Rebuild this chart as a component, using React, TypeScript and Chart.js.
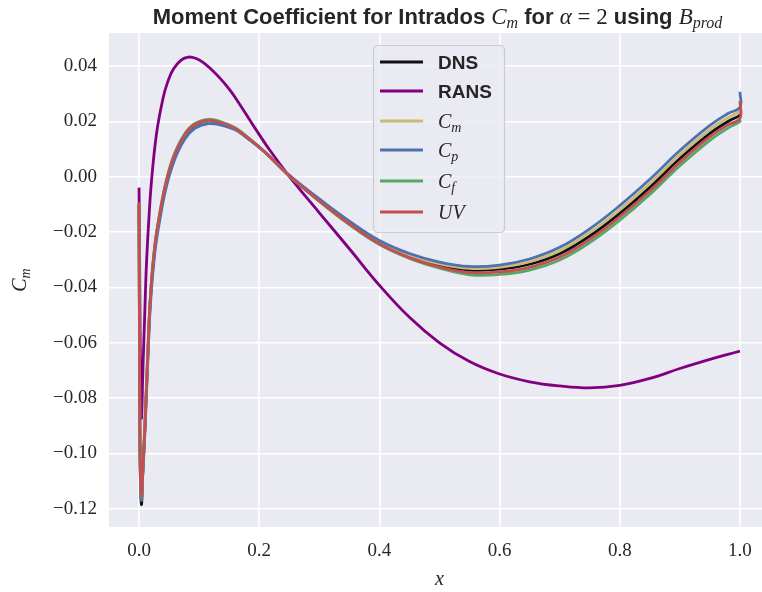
import React, { useEffect, useRef } from "react";
import { Chart, registerables } from "chart.js";

Chart.register(...registerables);

// Chordwise stations on the lower surface (shared by DNS and the model curves)
const xStations = [
  0, 0.0005, 0.001, 0.002, 0.004, 0.006, 0.0094, 0.0139, 0.0189, 0.026, 0.0344,
  0.0455, 0.059, 0.076, 0.093, 0.115, 0.135, 0.16, 0.18, 0.21, 0.25, 0.3, 0.35,
  0.4, 0.45, 0.5, 0.55, 0.6, 0.65, 0.7, 0.75, 0.8, 0.85, 0.9, 0.95, 0.98, 1.0, 1.0,
];

const dnsCm = [
  -0.01, -0.042, -0.076, -0.106, -0.1185, -0.108, -0.0926, -0.0685, -0.0443, -0.0262,
  -0.0142, -0.0021, 0.0075, 0.0148, 0.0186, 0.0202, 0.0195, 0.0174, 0.0142, 0.0088,
  0.0004, -0.0085, -0.0167, -0.0238, -0.0287, -0.032, -0.0337, -0.0334, -0.0316,
  -0.0278, -0.0214, -0.0132, -0.0038, 0.0066, 0.0157, 0.02, 0.0222, 0.0228,
];

const cmModel = [
  -0.0098, -0.0415, -0.0752, -0.105, -0.116, -0.107, -0.092, -0.068, -0.044, -0.0258,
  -0.0138, -0.0018, 0.0078, 0.015, 0.0188, 0.0203, 0.0196, 0.0175, 0.0143, 0.0089,
  0.0005, -0.0083, -0.0164, -0.0235, -0.0283, -0.0315, -0.0331, -0.0327, -0.0307,
  -0.0267, -0.0202, -0.0119, -0.0024, 0.008, 0.0171, 0.0214, 0.0237, 0.0244,
];

const cpModel = [
  -0.01, -0.041, -0.0745, -0.1045, -0.117, -0.1085, -0.094, -0.0705, -0.0462, -0.028,
  -0.0158, -0.0036, 0.0061, 0.0136, 0.0175, 0.0192, 0.0188, 0.017, 0.014, 0.0088,
  0.0006, -0.008, -0.016, -0.023, -0.0277, -0.0308, -0.0324, -0.0319, -0.0297,
  -0.0255, -0.0188, -0.0104, -0.0009, 0.0095, 0.0186, 0.0229, 0.0252, 0.0308,
];

const cfModel = [
  -0.0095, -0.0412, -0.075, -0.1048, -0.1158, -0.1062, -0.091, -0.0668, -0.0428, -0.025,
  -0.0131, -0.0011, 0.0084, 0.0156, 0.0193, 0.0208, 0.02, 0.0178, 0.0145, 0.0089,
  0.0003, -0.0089, -0.0173, -0.0245, -0.0295, -0.033, -0.0354, -0.0353, -0.0337,
  -0.0301, -0.0238, -0.0157, -0.0064, 0.004, 0.0132, 0.0176, 0.02, 0.0206,
];

const uvModel = [
  -0.0092, -0.041, -0.0748, -0.1045, -0.1155, -0.1068, -0.0918, -0.0676, -0.0436, -0.0256,
  -0.0136, -0.0016, 0.0079, 0.0151, 0.0189, 0.0204, 0.0197, 0.0175, 0.0143, 0.0088,
  0.0004, -0.0087, -0.017, -0.0242, -0.0292, -0.0326, -0.0346, -0.0344, -0.0327,
  -0.029, -0.0226, -0.0144, -0.0051, 0.0053, 0.0145, 0.0188, 0.0211, 0.0274,
];

// RANS solution on its own stations
const xRans = [
  0, 0.001, 0.002, 0.0039, 0.0066, 0.0095, 0.0122, 0.016, 0.0205, 0.029, 0.04, 0.048,
  0.057, 0.07, 0.082, 0.095, 0.107, 0.12, 0.135, 0.15, 0.1625, 0.19, 0.218, 0.25, 0.3,
  0.35, 0.4, 0.45, 0.5, 0.55, 0.6, 0.65, 0.7, 0.75, 0.8, 0.85, 0.9, 0.95, 0.98, 1.0,
];

const ransCm = [
  -0.0039, -0.03, -0.06, -0.0872, -0.0685, -0.0495, -0.0323, -0.0165, -0.0021, 0.0155,
  0.0285, 0.0345, 0.0389, 0.0422, 0.0433, 0.0428, 0.0413, 0.0389, 0.0356, 0.0317,
  0.0279, 0.0186, 0.0095, 0.0002, -0.013, -0.026, -0.0392, -0.0508, -0.06, -0.0668,
  -0.0713, -0.0741, -0.0756, -0.0763, -0.0754, -0.0729, -0.0693, -0.066, -0.0642, -0.063,
];

const xTickValues = [0, 0.2, 0.4, 0.6, 0.8, 1.0];
const yTickValues = [-0.12, -0.1, -0.08, -0.06, -0.04, -0.02, 0, 0.02, 0.04];

const COLORS = {
  dns: "#111111",
  rans: "#800080",
  cm: "#CCB974",
  cp: "#4C72B0",
  cf: "#55A868",
  uv: "#C44E52",
};

const TEXT = "#262626";
const SERIF = '"Liberation Serif", "DejaVu Serif", serif';
const SANS = '"Liberation Sans", "DejaVu Sans", sans-serif';

type Run = { text: string; font: string; dy?: number; w?: number };

function drawRuns(ctx: CanvasRenderingContext2D, runs: Run[], x: number, baseline: number, align: "center" | "left") {
  let total = 0;
  for (const r of runs) {
    ctx.font = r.font;
    r.w = ctx.measureText(r.text).width;
    total += r.w;
  }
  let cx = align === "center" ? x - total / 2 : x;
  ctx.textAlign = "left";
  ctx.textBaseline = "alphabetic";
  for (const r of runs) {
    ctx.font = r.font;
    ctx.fillText(r.text, cx, baseline + (r.dy || 0));
    cx += r.w || 0;
  }
}

const mathBig = `italic 20px ${SERIF}`;
const mathSub = `italic 14px ${SERIF}`;
const boldSans = `bold 19px ${SANS}`;
const titleSans = `bold 22px ${SANS}`;
const titleMath = `italic 23px ${SERIF}`;
const titleSub = `italic 16px ${SERIF}`;

const legendEntries: { color: string; runs: Run[] }[] = [
  { color: COLORS.dns, runs: [{ text: "DNS", font: boldSans }] },
  { color: COLORS.rans, runs: [{ text: "RANS", font: boldSans }] },
  { color: COLORS.cm, runs: [{ text: "C", font: mathBig }, { text: "m", font: mathSub, dy: 4 }] },
  { color: COLORS.cp, runs: [{ text: "C", font: mathBig }, { text: "p", font: mathSub, dy: 4 }] },
  { color: COLORS.cf, runs: [{ text: "C", font: mathBig }, { text: "f", font: mathSub, dy: 4 }] },
  { color: COLORS.uv, runs: [{ text: "UV", font: mathBig }] },
];
const legendRowY = [62, 91, 121, 150, 181, 212];

const decorations = {
  id: "decorations",
  beforeDraw(chart: Chart) {
    const { ctx, chartArea } = chart;
    ctx.save();
    ctx.fillStyle = "#EAEAF2";
    ctx.fillRect(chartArea.left, chartArea.top, chartArea.right - chartArea.left, chartArea.bottom - chartArea.top);
    ctx.restore();
  },
  afterDraw(chart: Chart) {
    const { ctx, chartArea } = chart;
    ctx.save();
    ctx.fillStyle = TEXT;

    // title
    const cx = (chartArea.left + chartArea.right) / 2;
    drawRuns(
      ctx,
      [
        { text: "Moment Coefficient for Intrados ", font: titleSans },
        { text: "C", font: titleMath },
        { text: "m", font: titleSub, dy: 4 },
        { text: " for ", font: titleSans },
        { text: "α", font: titleMath },
        { text: " = 2", font: `23px ${SERIF}` },
        { text: " using ", font: titleSans },
        { text: "B", font: titleMath },
        { text: "prod", font: titleSub, dy: 4 },
      ],
      cx - 2,
      24,
      "center"
    );

    // x axis label
    drawRuns(ctx, [{ text: "x", font: mathBig }], cx, 585, "center");

    // y axis label
    ctx.save();
    ctx.translate(26, (chartArea.top + chartArea.bottom) / 2);
    ctx.rotate(-Math.PI / 2);
    drawRuns(ctx, [{ text: "C", font: mathBig }, { text: "m", font: mathSub, dy: 4 }], 0, 0, "center");
    ctx.restore();

    // legend
    const lx = 373.5, ly = 45.5, lw = 131, lh = 187;
    ctx.beginPath();
    ctx.roundRect(lx, ly, lw, lh, 4);
    ctx.fillStyle = "rgba(234,234,242,0.8)";
    ctx.fill();
    ctx.strokeStyle = "#CCCCCC";
    ctx.lineWidth = 1.2;
    ctx.stroke();
    legendEntries.forEach((e, i) => {
      const y = legendRowY[i];
      ctx.beginPath();
      ctx.moveTo(380, y);
      ctx.lineTo(423, y);
      ctx.strokeStyle = e.color;
      ctx.lineWidth = 2.8;
      ctx.stroke();
      ctx.fillStyle = TEXT;
      drawRuns(ctx, e.runs, 438, y + 7, "left");
    });
    ctx.restore();
  },
};

function lineData(xs: number[], ys: number[]) {
  return xs.map((x, i) => ({ x, y: ys[i] }));
}

function fmtY(v: number) {
  const r = Math.round(v * 100) / 100;
  return (r < 0 ? "\u2212" : "") + Math.abs(r).toFixed(2);
}

export default function App() {
  const canvasRef = useRef<HTMLCanvasElement | null>(null);

  useEffect(() => {
    if (!canvasRef.current) return;
    const common = {
      pointRadius: 0,
      borderWidth: 2.8,
      tension: 0.4,
      borderJoinStyle: "round" as const,
      borderCapStyle: "butt" as const,
      fill: false,
    };
    const chart = new Chart(canvasRef.current, {
      type: "line",
      data: {
        datasets: [
          { label: "DNS", data: lineData(xStations, dnsCm), borderColor: COLORS.dns, order: 6, ...common },
          { label: "RANS", data: lineData(xRans, ransCm), borderColor: COLORS.rans, order: 5, ...common },
          { label: "C_m", data: lineData(xStations, cmModel), borderColor: COLORS.cm, order: 4, ...common },
          { label: "C_p", data: lineData(xStations, cpModel), borderColor: COLORS.cp, order: 3, ...common },
          { label: "C_f", data: lineData(xStations, cfModel), borderColor: COLORS.cf, order: 2, ...common },
          { label: "UV", data: lineData(xStations, uvModel), borderColor: COLORS.uv, order: 1, ...common },
        ],
      },
      options: {
        animation: false,
        responsive: false,
        devicePixelRatio: 1,
        parsing: false,
        layout: { padding: { top: 33, right: 2, left: 0, bottom: 0 } },
        plugins: { legend: { display: false }, title: { display: false }, tooltip: { enabled: false } },
        scales: {
          x: {
            type: "linear",
            min: -0.05,
            max: 1.05,
            afterBuildTicks: (s: any) => {
              s.ticks = xTickValues.map((v) => ({ value: v }));
            },
            afterFit: (s: any) => {
              s.height = 65;
            },
            grid: { color: "#FFFFFF", lineWidth: 1.6, drawTicks: false },
            border: { display: false },
            ticks: {
              padding: 13,
              color: TEXT,
              autoSkip: false,
              maxRotation: 0,
              font: { family: SERIF, size: 19 },
              callback: (v: any) => Number(v).toFixed(1),
            },
          },
          y: {
            type: "linear",
            min: -0.1266,
            max: 0.052,
            afterBuildTicks: (s: any) => {
              s.ticks = yTickValues.map((v) => ({ value: v }));
            },
            afterFit: (s: any) => {
              s.width = 109;
            },
            grid: { color: "#FFFFFF", lineWidth: 1.6, drawTicks: false },
            border: { display: false },
            ticks: {
              padding: 12,
              color: TEXT,
              autoSkip: false,
              font: { family: SERIF, size: 19 },
              callback: (v: any) => fmtY(Number(v)),
            },
          },
        },
      },
      plugins: [decorations],
    });
    return () => chart.destroy();
  }, []);

  return (
    <div style={{ position: "fixed", left: 0, top: 0, width: 762, height: 592, overflow: "hidden", background: "#FFFFFF" }}>
      <canvas ref={canvasRef} width={772} height={592} style={{ display: "block" }} />
    </div>
  );
}
